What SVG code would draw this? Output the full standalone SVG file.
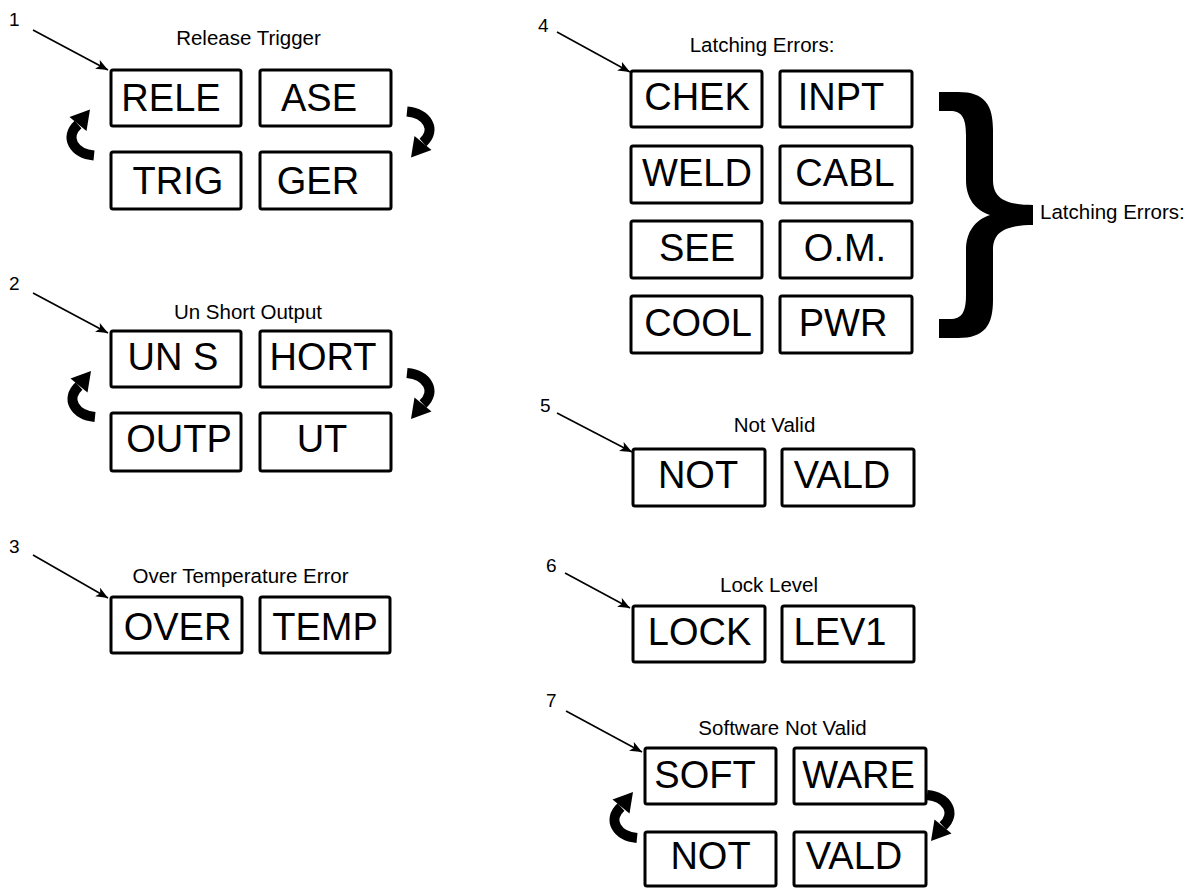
<svg xmlns="http://www.w3.org/2000/svg" width="1189" height="888" viewBox="0 0 1189 888">
<style>
.box{fill:#fff;stroke:#000;stroke-width:3}
.bt{font-family:"Liberation Sans",Arial,sans-serif;font-size:38px;fill:#000;text-anchor:middle}
.tt{font-family:"Liberation Sans",Arial,sans-serif;font-size:20.5px;fill:#000;text-anchor:middle}
.num{font-family:"Liberation Sans",Arial,sans-serif;font-size:19px;fill:#000}
.lead{stroke:#000;stroke-width:1.6;fill:none}
</style>
<defs>
<marker id="ah" markerUnits="userSpaceOnUse" markerWidth="14" markerHeight="12" refX="12" refY="5" orient="auto">
<path d="M0,0 L12,5 L0,10 L3,5 z" fill="#000"/>
</marker>
<g id="carrow">
<path d="M 15 22 C -5 20, -15 4, -1 -9" fill="none" stroke="#000" stroke-width="10"/>
<polygon points="11,-24 7.5,-2.5 -9.5,-16.5" fill="#000"/>
</g>
</defs>
<rect width="1189" height="888" fill="#fff"/>

<g id="connectors">
<line class="lead" x1="33" y1="30" x2="108" y2="70" marker-end="url(#ah)"/>
<line class="lead" x1="33" y1="293" x2="108" y2="333" marker-end="url(#ah)"/>
<line class="lead" x1="33" y1="555" x2="108" y2="598" marker-end="url(#ah)"/>
<line class="lead" x1="557" y1="32" x2="630" y2="72" marker-end="url(#ah)"/>
<line class="lead" x1="557" y1="413" x2="632" y2="452" marker-end="url(#ah)"/>
<line class="lead" x1="565" y1="573" x2="630" y2="608" marker-end="url(#ah)"/>
<line class="lead" x1="566" y1="711" x2="642" y2="752" marker-end="url(#ah)"/>
<use href="#carrow" transform="translate(79,133.5)"/>
<use href="#carrow" transform="translate(422,133.5) rotate(180)"/>
<use href="#carrow" transform="translate(80,395)"/>
<use href="#carrow" transform="translate(422,395) rotate(180)"/>
<use href="#carrow" transform="translate(622,816)"/>
<use href="#carrow" transform="translate(942,817) rotate(180)"/>
</g>

<g id="group1">
<text class="num" x="9" y="26">1</text>
<text class="tt" x="248.5" y="45">Release Trigger</text>
<rect class="box" x="111" y="70" width="130" height="56" rx="2"/>
<text class="bt" x="171" y="111">RELE</text>
<rect class="box" x="260" y="70" width="131" height="56" rx="2"/>
<text class="bt" x="319" y="111">ASE</text>
<rect class="box" x="111" y="152" width="130" height="57" rx="2"/>
<text class="bt" x="178" y="194">TRIG</text>
<rect class="box" x="260" y="152" width="131" height="57" rx="2"/>
<text class="bt" x="318" y="194">GER</text>
</g>

<g id="group2">
<text class="num" x="9" y="290">2</text>
<text class="tt" x="248" y="319">Un Short Output</text>
<rect class="box" x="111" y="331" width="130" height="56" rx="2"/>
<text class="bt" x="173" y="370">UN S</text>
<rect class="box" x="260" y="331" width="131" height="56" rx="2"/>
<text class="bt" x="323" y="370">HORT</text>
<rect class="box" x="111" y="413" width="130" height="58" rx="2"/>
<text class="bt" x="179" y="452">OUTP</text>
<rect class="box" x="260" y="413" width="131" height="58" rx="2"/>
<text class="bt" x="322" y="452">UT</text>
</g>

<g id="group3">
<text class="num" x="9" y="553">3</text>
<text class="tt" x="240.5" y="583">Over Temperature Error</text>
<rect class="box" x="111" y="597" width="131" height="56" rx="2"/>
<text class="bt" x="177.5" y="640">OVER</text>
<rect class="box" x="260" y="597" width="130" height="56" rx="2"/>
<text class="bt" x="325" y="640">TEMP</text>
</g>

<g id="group4">
<text class="num" x="538" y="32">4</text>
<text class="tt" x="762" y="52">Latching Errors:</text>
<rect class="box" x="631" y="71" width="131" height="56" rx="2"/>
<text class="bt" x="697" y="110">CHEK</text>
<rect class="box" x="780" y="71" width="132" height="56" rx="2"/>
<text class="bt" x="841" y="110">INPT</text>
<rect class="box" x="631" y="146" width="131" height="57" rx="2"/>
<text class="bt" x="697" y="186">WELD</text>
<rect class="box" x="780" y="146" width="132" height="57" rx="2"/>
<text class="bt" x="845" y="186">CABL</text>
<rect class="box" x="631" y="221" width="131" height="57" rx="2"/>
<text class="bt" x="697" y="261">SEE</text>
<rect class="box" x="780" y="221" width="132" height="57" rx="2"/>
<text class="bt" x="845" y="261">O.M.</text>
<rect class="box" x="631" y="296" width="131" height="57" rx="2"/>
<text class="bt" x="698" y="336">COOL</text>
<rect class="box" x="780" y="296" width="132" height="57" rx="2"/>
<text class="bt" x="843" y="336">PWR</text>
</g>

<g id="brace">
<path d="M 939 92 L 958 92 C 985 92 993 105 993 130 L 993 180 C 993 198 1005 205 1033 205 L 1033 225 C 1005 225 993 232 993 250 L 993 300 C 993 325 985 338 958 338 L 939 338 L 939 319 L 950 319 C 962 319 966 312 966 295 L 966 250 C 966 232 975 220 990 215 C 975 210 966 198 966 180 L 966 135 C 966 118 962 111 950 111 L 939 111 Z" fill="#000"/>
<text class="tt" x="1040" y="219" style="text-anchor:start">Latching Errors:</text>
</g>

<g id="group5">
<text class="num" x="540" y="412">5</text>
<text class="tt" x="774.5" y="432">Not Valid</text>
<rect class="box" x="633" y="449" width="132" height="57" rx="2"/>
<text class="bt" x="698" y="488">NOT</text>
<rect class="box" x="782" y="449" width="132" height="57" rx="2"/>
<text class="bt" x="842" y="488">VALD</text>
</g>

<g id="group6">
<text class="num" x="546" y="572">6</text>
<text class="tt" x="769" y="592">Lock Level</text>
<rect class="box" x="633" y="606" width="132" height="56" rx="2"/>
<text class="bt" x="699.5" y="645">LOCK</text>
<rect class="box" x="782" y="606" width="132" height="56" rx="2"/>
<text class="bt" x="840" y="645">LEV1</text>
</g>

<g id="group7">
<text class="num" x="546" y="707">7</text>
<text class="tt" x="782.5" y="735">Software Not Valid</text>
<rect class="box" x="645" y="748" width="131" height="56" rx="2"/>
<text class="bt" x="705" y="788">SOFT</text>
<rect class="box" x="794" y="748" width="132" height="56" rx="2"/>
<text class="bt" x="858.5" y="788">WARE</text>
<rect class="box" x="645" y="832" width="131" height="54" rx="2"/>
<text class="bt" x="710.5" y="869">NOT</text>
<rect class="box" x="794" y="832" width="132" height="54" rx="2"/>
<text class="bt" x="854" y="869">VALD</text>
</g>
</svg>
